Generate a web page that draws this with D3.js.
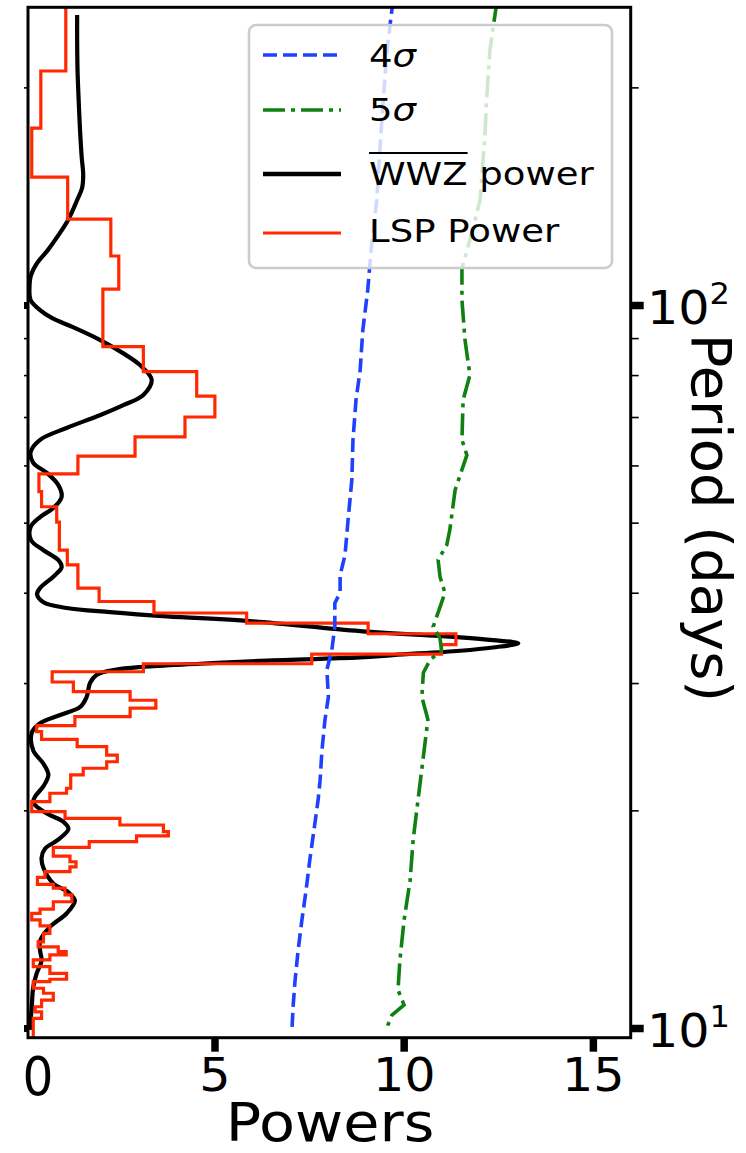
<!DOCTYPE html>
<html>
<head>
<meta charset="utf-8">
<script src="https://cdn.jsdelivr.net/npm/d3@7"></script>
<style>
  body { margin: 0; background: #fff; }
  text { font-family: "DejaVu Sans", sans-serif; fill: #000; }
</style>
</head>
<body>
<svg id="chart" width="746" height="1153"></svg>
<script>
// ---- Lomb-Scargle power, drawn as steps: bin edges (days) and power per bin ----
const lspEdges = [300, 210.7, 175.7, 150.3, 131.5, 116.9, 105.2, 87.6, 80.9, 74.8,
  70.0, 65.7, 61.8, 58.4, 55.2, 52.6, 50.1, 45.8, 43.7, 40.6,
  38.9, 37.5, 36.3, 35.1, 33.9, 32.9, 31.9, 31.1, 30.1, 29.2,
  28.4, 27.7, 26.96, 26.2, 25.7, 25.07, 24.5, 23.85, 23.35, 22.87,
  22.39, 21.46, 21.12, 20.56, 19.92, 19.50, 19.09, 18.69, 18.44, 18.10,
  17.78, 17.29, 16.98, 16.71, 16.45, 16.16, 15.80, 15.61, 15.28, 14.95,
  14.60, 14.41, 14.11, 13.84, 13.52, 13.16, 12.95, 12.75, 12.62, 12.42,
  12.16, 11.90, 11.68, 11.59, 11.35, 11.17, 10.93, 10.70, 10.53, 10.31, 9.6];
const lspPower = [1.07, 0.41, 0.17, 1.12, 2.26, 2.47, 2.05, 3.12, 4.53, 5.01,
  4.22, 2.90, 1.39, 0.36, 0.43, 0.83, 0.90, 1.11, 1.39, 1.95,
  3.40, 5.85, 9.06, 11.38, 11.00, 7.57, 3.12, 0.71, 1.27, 2.77,
  3.45, 2.77, 1.31, 0.30, 0.43, 1.37, 2.15, 2.43, 2.15, 1.53,
  1.20, 1.09, 0.65, 0.17, 1.05, 2.50, 3.65, 3.78, 2.94, 1.69,
  0.74, 1.18, 1.34, 1.18, 0.52, 0.32, 0.74, 1.05, 1.23, 0.74,
  0.39, 0.17, 0.39, 0.65, 0.48, 0.34, 0.87, 1.08, 0.65, 0.21,
  0.65, 1.09, 0.65, 0.21, 0.48, 0.74, 0.43, 0.26, 0.43, 0.21];

// ---- time-averaged WWZ power ----
const wwzPeriod = [251.8, 232.6, 211.4, 192.1, 172.9, 160.2, 151.3, 145.2, 139.7, 131.1,
  125.0, 119.2, 114.3, 110.0, 105.6, 101.6, 98.4, 95.9, 93.2, 89.5,
  85.8, 82.6, 78.8, 75.1, 72.7, 70.4, 67.6, 65.1, 62.6, 60.5,
  58.6, 56.4, 54.3, 52.4, 50.9, 49.3, 47.3, 45.8, 44.4, 43.4,
  42.1, 40.6, 39.8, 38.8, 38.1, 37.6, 37.1, 36.55, 35.4, 34.7,
  34.4, 34.05, 33.6, 33.25, 32.8, 32.55, 32.2, 31.9, 31.6, 31.3,
  30.8, 30.0, 28.7, 27.8, 27.1, 26.4, 25.6, 24.2, 23.2, 22.4,
  21.6, 20.9, 20.5, 19.8, 19.3, 18.85, 18.2, 17.7, 17.2, 16.65,
  15.85, 15.4, 15.0, 14.4, 13.8, 13.2, 12.8, 12.4, 11.9, 11.4, 10.7, 9.94];
const wwzPower = [1.37, 1.37, 1.38, 1.41, 1.45, 1.49, 1.53, 1.50, 1.37, 1.13,
  0.88, 0.60, 0.31, 0.15, 0.11, 0.14, 0.39, 0.71, 1.26, 1.97,
  2.58, 3.03, 3.34, 3.12, 2.59, 1.97, 1.09, 0.39, 0.14, 0.21,
  0.57, 0.87, 0.96, 0.74, 0.39, 0.14, 0.15, 0.48, 0.87, 0.96,
  0.74, 0.39, 0.31, 0.48, 1.09, 2.24, 3.74, 5.94, 8.85, 11.49,
  12.36, 13.03, 12.36, 11.49, 9.72, 8.85, 6.20, 4.62, 3.12, 2.37,
  1.89, 1.71, 1.62, 1.45, 0.92, 0.39, 0.17, 0.21, 0.48, 0.61,
  0.48, 0.26, 0.21, 0.57, 1.00, 1.14, 0.86, 0.52, 0.43, 0.48,
  0.74, 1.14, 1.31, 1.09, 0.65, 0.39, 0.39, 0.43, 0.30, 0.21, 0.17, 0.12];

// ---- significance curves ----
const sig4Period = [264.2, 225.3, 192.1, 163.8, 139.7, 119.2, 104.9, 92.3, 81.3, 73.9,
  65.1, 57.3, 50.4, 45.1, 42.3, 40.0, 38.7, 35.9, 33.3, 31.3,
  28.7, 26.7, 24.2, 22.0, 20.7, 18.8, 17.1, 15.5, 14.1, 12.8, 11.65, 10.76, 10.03];
const sig4Power = [9.72, 9.56, 9.46, 9.37, 9.29, 9.14, 9.05, 8.92, 8.85, 8.74,
  8.66, 8.63, 8.53, 8.45, 8.32, 8.32, 8.18, 8.18, 8.10, 7.97,
  8.01, 7.92, 7.84, 7.79, 7.74, 7.63, 7.52, 7.42, 7.31, 7.21, 7.13, 7.08, 7.05];
const sig5Period = [264.2, 225.3, 192.1, 172.9, 139.7, 123.0, 112.5, 101.6, 89.5, 80.0,
  73.9, 65.1, 62.0, 55.5, 48.9, 46.6, 44.4, 42.1, 40.0, 38.2,
  35.9, 34.6, 33.3, 32.3, 31.0, 28.7, 26.7, 23.5, 20.7, 18.2,
  16.0, 14.1, 12.4, 11.29, 10.76, 10.42, 10.03];
const sig5Power = [12.47, 12.28, 12.19, 12.15, 12.02, 11.75, 11.54, 11.54, 11.62, 11.75,
  11.57, 11.54, 11.67, 11.36, 11.22, 11.14, 10.91, 10.96, 11.09, 10.96,
  10.78, 10.96, 11.00, 10.70, 10.52, 10.48, 10.64, 10.51, 10.38, 10.25,
  10.17, 10.01, 9.90, 9.85, 10.01, 9.69, 9.56];

// ---- ticks and labels ----
const xTickValues = [5, 10, 15];
const yMajorTicks = [10, 100];
const yMajorExp = ["1", "2"];
const yMinorTicks = [20, 30, 40, 50, 60, 70, 80, 90, 200];
const legendLabels = ["4\u03c3", "5\u03c3", "WWZ power", "LSP Power"];

const colors = { sig4: "#2040ff", sig5: "#108010", wwz: "#000000", lsp: "#ff2800" };

const svg = d3.select("#chart");
const plot = { left: 28, right: 630.7, top: 7.3, bottom: 1037.7 };

const x = d3.scaleLinear().domain([0.071, 16]).range([plot.left, plot.right]);
const y = d3.scaleLog().domain([9.696, 258.1]).range([plot.bottom, plot.top]);

svg.append("defs").append("clipPath").attr("id", "plotClip")
  .append("rect")
  .attr("x", plot.left).attr("y", plot.top)
  .attr("width", plot.right - plot.left).attr("height", plot.bottom - plot.top);

const layer = svg.append("g").attr("clip-path", "url(#plotClip)");

const line = d3.line().x(d => x(d[0])).y(d => y(d[1]));

// WWZ power (smooth)
const wwzPts = wwzPeriod.map((p, i) => [wwzPower[i], p]);
layer.append("path")
  .attr("d", line.curve(d3.curveCatmullRom.alpha(0.5))(wwzPts))
  .attr("fill", "none").attr("stroke", colors.wwz)
  .attr("stroke-width", 4.2).attr("stroke-linejoin", "round");

// LSP power as steps
const lspPts = [];
lspPower.forEach((v, i) => { lspPts.push([v, lspEdges[i]]); lspPts.push([v, lspEdges[i + 1]]); });
layer.append("path")
  .attr("d", d3.line().x(d => x(d[0])).y(d => y(d[1]))(lspPts))
  .attr("fill", "none").attr("stroke", colors.lsp)
  .attr("stroke-width", 3.2).attr("stroke-linejoin", "miter");

// 4 sigma
layer.append("path")
  .attr("d", d3.line().x(d => x(d[0])).y(d => y(d[1]))(sig4Period.map((p, i) => [sig4Power[i], p])))
  .attr("fill", "none").attr("stroke", colors.sig4)
  .attr("stroke-width", 3.6).attr("stroke-dasharray", "14,6");

// 5 sigma
layer.append("path")
  .attr("d", d3.line().x(d => x(d[0])).y(d => y(d[1]))(sig5Period.map((p, i) => [sig5Power[i], p])))
  .attr("fill", "none").attr("stroke", colors.sig5)
  .attr("stroke-width", 3.6).attr("stroke-dasharray", "22,6,4,6");

// ---- legend ----
const lg = svg.append("g");
lg.append("rect")
  .attr("x", 249).attr("y", 25).attr("width", 363).attr("height", 243)
  .attr("rx", 7)
  .attr("fill", "#fff").attr("fill-opacity", 0.8)
  .attr("stroke", "#cccccc").attr("stroke-width", 2.6);

const legendItems = [
  { key: "sig4", ly: 55, ty: 67, dash: "14,6", w: 3.6 },
  { key: "sig5", ly: 110, ty: 121, dash: "22,6,4,6", w: 3.6 },
  { key: "wwz", ly: 174, ty: 185, dash: null, w: 4.6 },
  { key: "lsp", ly: 233, ty: 242, dash: null, w: 3.2 }
];
const legendFont = 32.5, legendSx = 1.14;
legendItems.forEach((it, i) => {
  lg.append("line")
    .attr("x1", 263).attr("x2", 341).attr("y1", it.ly).attr("y2", it.ly)
    .attr("stroke", colors[it.key]).attr("stroke-width", it.w)
    .attr("stroke-dasharray", it.dash);
  const t = lg.append("text")
    .attr("transform", `translate(369,${it.ty}) scale(${legendSx},1)`)
    .attr("font-size", legendFont);
  const label = legendLabels[i];
  if (it.key === "sig4" || it.key === "sig5") {
    t.append("tspan").text(label[0]);
    t.append("tspan").attr("font-style", "italic").text(label.slice(1));
  } else if (it.key === "wwz") {
    const parts = label.split(" ");
    t.append("tspan").text(parts[0]);
    t.append("tspan").text(" " + parts[1]);
    const wLen = t.node().getSubStringLength(0, parts[0].length) * legendSx;
    lg.append("line")
      .attr("x1", 369).attr("x2", 369 + wLen)
      .attr("y1", 153).attr("y2", 153)
      .attr("stroke", "#000").attr("stroke-width", 1.8);
  } else {
    t.text(label);
  }
});

// ---- axes ----
const tickSx = 1.07;
const xAxis = svg.append("g")
  .attr("transform", `translate(0,${plot.bottom})`)
  .call(d3.axisBottom(x).tickValues(xTickValues).tickSize(14).tickFormat(d3.format("d")));
xAxis.select(".domain").remove();
xAxis.selectAll(".tick line").attr("stroke", "#000").attr("stroke-width", 7.5);
xAxis.selectAll(".tick text")
  .attr("y", 53.5).attr("dy", 0)
  .attr("font-size", 46).attr("font-family", "DejaVu Sans")
  .attr("transform", `scale(${tickSx},1)`);

// zero label at the lower-left corner
svg.append("text")
  .attr("transform", `translate(38,1095) scale(0.9,1)`)
  .attr("text-anchor", "middle").attr("font-size", 54).text("0");

// right-hand period axis
const yMajor = svg.append("g")
  .attr("transform", `translate(${plot.right},0)`)
  .call(d3.axisRight(y).tickValues(yMajorTicks).tickSize(13).tickFormat(""));
yMajor.select(".domain").remove();
yMajor.selectAll(".tick line").attr("stroke", "#000").attr("stroke-width", 7.5);

const yMinor = svg.append("g")
  .attr("transform", `translate(${plot.right},0)`)
  .call(d3.axisRight(y).tickValues(yMinorTicks).tickSize(8).tickFormat(""));
yMinor.select(".domain").remove();
yMinor.selectAll(".tick line").attr("stroke", "#000").attr("stroke-width", 1.6);

// left spine ticks (no labels)
const yLeftMinor = svg.append("g")
  .attr("transform", `translate(${plot.left},0)`)
  .call(d3.axisLeft(y).tickValues(yMinorTicks).tickSize(4).tickFormat(""));
yLeftMinor.select(".domain").remove();
yLeftMinor.selectAll(".tick line").attr("stroke", "#000").attr("stroke-width", 1.6);
const yLeftMajor = svg.append("g")
  .attr("transform", `translate(${plot.left},0)`)
  .call(d3.axisLeft(y).tickValues(yMajorTicks).tickSize(4).tickFormat(""));
yLeftMajor.select(".domain").remove();
yLeftMajor.selectAll(".tick line").attr("stroke", "#000").attr("stroke-width", 7);

// power-of-ten labels
yMajorTicks.forEach((v, i) => {
  const t = svg.append("text")
    .attr("transform", `translate(647,${y(v) + 19}) scale(${tickSx},1)`)
    .attr("font-size", 46);
  t.append("tspan").text("10");
  t.append("tspan").attr("font-size", 30).attr("dy", -20).text(yMajorExp[i]);
});

// spines
const spine = svg.append("g").attr("stroke", "#000").attr("stroke-width", 3).attr("fill", "none");
spine.append("rect")
  .attr("x", plot.left).attr("y", plot.top)
  .attr("width", plot.right - plot.left).attr("height", plot.bottom - plot.top);

// axis titles
svg.append("text")
  .attr("transform", `translate(330,1141) scale(1.09,1)`)
  .attr("text-anchor", "middle").attr("font-size", 54).text("Powers");
svg.append("text")
  .attr("transform", "translate(691.5,518) rotate(90)")
  .attr("text-anchor", "middle").attr("font-size", 56).text("Period (days)");
</script>
</body>
</html>
